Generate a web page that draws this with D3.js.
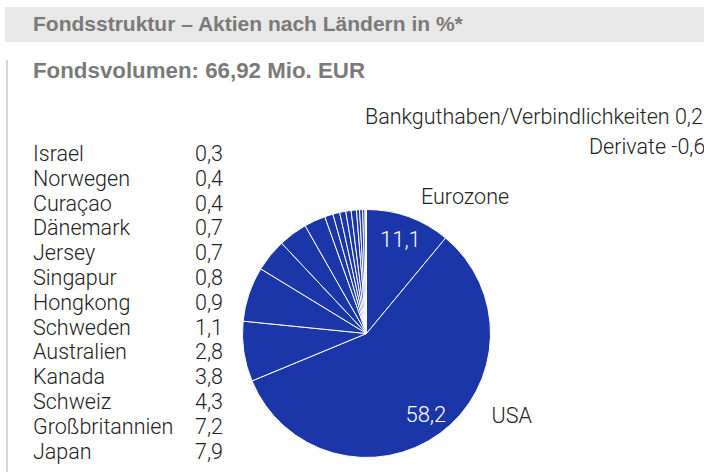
<!DOCTYPE html>
<html>
<head>
<meta charset="utf-8">
<script src="https://cdn.jsdelivr.net/npm/d3@7"></script>
<style>
  body { margin: 0; background: #fff; }
  svg { display: block; font-family: Roboto, "Liberation Sans", sans-serif; }
  .head { font-family: "Liberation Sans", Arial, sans-serif; font-weight: bold; fill: #7a7a7a; }
  .lbl { font-weight: 300; fill: #222; font-size: 21.5px; }
  .inner { font-weight: 300; fill: #fff; font-size: 22px; }
</style>
</head>
<body>
<div id="chart"></div>
<script>
// slices clockwise from 12 o'clock
const countries = ["Eurozone", "USA", "Japan", "Großbritannien", "Schweiz", "Kanada", "Australien",
  "Schweden", "Hongkong", "Singapur", "Jersey", "Dänemark", "Curaçao", "Norwegen", "Israel",
  "Bankguthaben/Verbindlichkeiten"];
const shares = [11.1, 58.2, 7.9, 7.2, 4.3, 3.8, 2.8, 1.1, 0.9, 0.8, 0.7, 0.7, 0.4, 0.4, 0.3, 0.2];
const valueText = ["11,1", "58,2", "7,9", "7,2", "4,3", "3,8", "2,8", "1,1", "0,9", "0,8", "0,7", "0,7", "0,4", "0,4", "0,3", "0,2"];
// left list, top to bottom
const listNames = ["Israel", "Norwegen", "Curaçao", "Dänemark", "Jersey", "Singapur", "Hongkong",
  "Schweden", "Australien", "Kanada", "Schweiz", "Großbritannien", "Japan"];
const extraLines = ["Bankguthaben/Verbindlichkeiten 0,2", "Derivate -0,6"];

const W = 704, H = 472;
const cx = 366.5, cy = 333.5, R = 124;
const BLUE = "#1a36a8", GREY = "#dcdcdc";

const svg = d3.select("#chart").append("svg").attr("width", W).attr("height", H);

// header bar
svg.append("rect").attr("x", 5).attr("y", 7).attr("width", W - 5).attr("height", 35).attr("fill", "#e8e8e8");
svg.append("text").attr("class", "head").attr("x", 33).attr("y", 31).attr("font-size", 21)
  .text("Fondsstruktur – Aktien nach Ländern in %*");
svg.append("line").attr("x1", 7).attr("x2", 7).attr("y1", 60).attr("y2", H)
  .attr("stroke", "#c8c8c8").attr("stroke-width", 1.5);
svg.append("text").attr("class", "head").attr("x", 33).attr("y", 78).attr("font-size", 22.3)
  .text("Fondsvolumen: 66,92 Mio. EUR");

// the pie
const data = countries.map((c, i) => ({ name: c, value: shares[i], txt: valueText[i] }));
const pie = d3.pie().sort(null).value(d => d.value);
const arc = d3.arc().innerRadius(0).outerRadius(R);
const arcs = pie(data);

const g = svg.append("g").attr("transform", `translate(${cx},${cy})`);
g.selectAll("path").data(arcs).join("path")
  .attr("d", arc)
  .attr("fill", d => d.data.name.startsWith("Bank") ? GREY : BLUE)
  .attr("stroke", "#fff").attr("stroke-width", 1);

// value labels inside the two big slices
const inArc = d3.arc().innerRadius(100).outerRadius(100);
g.selectAll("text.inner").data(arcs.slice(0, 2)).join("text")
  .attr("class", "inner")
  .attr("text-anchor", "middle")
  .attr("x", d => inArc.centroid(d)[0])
  .attr("y", d => inArc.centroid(d)[1] + 8)
  .text(d => d.data.txt);

// names outside the two big slices
g.append("text").attr("class", "lbl").attr("x", 54.5).attr("y", -129.5).text(countries[0]);
g.append("text").attr("class", "lbl").attr("x", 125).attr("y", 89).text(countries[1]);

// top right notes (cut off at the right edge, as in the source)
svg.append("text").attr("class", "lbl").attr("x", 365).attr("y", 124).text(extraLines[0]);
svg.append("text").attr("class", "lbl").attr("x", 589).attr("y", 154).text(extraLines[1]);

// left list
const y = d3.scalePoint().domain(listNames).range([161, 458.6]);
const valueOf = n => valueText[countries.indexOf(n)];
const list = svg.append("g");
list.selectAll("text.name").data(listNames).join("text")
  .attr("class", "lbl name").attr("x", 33).attr("y", d => y(d)).text(d => d);
list.selectAll("text.val").data(listNames).join("text")
  .attr("class", "lbl val").attr("x", 195).attr("y", d => y(d)).text(d => valueOf(d));
</script>
</body>
</html>
